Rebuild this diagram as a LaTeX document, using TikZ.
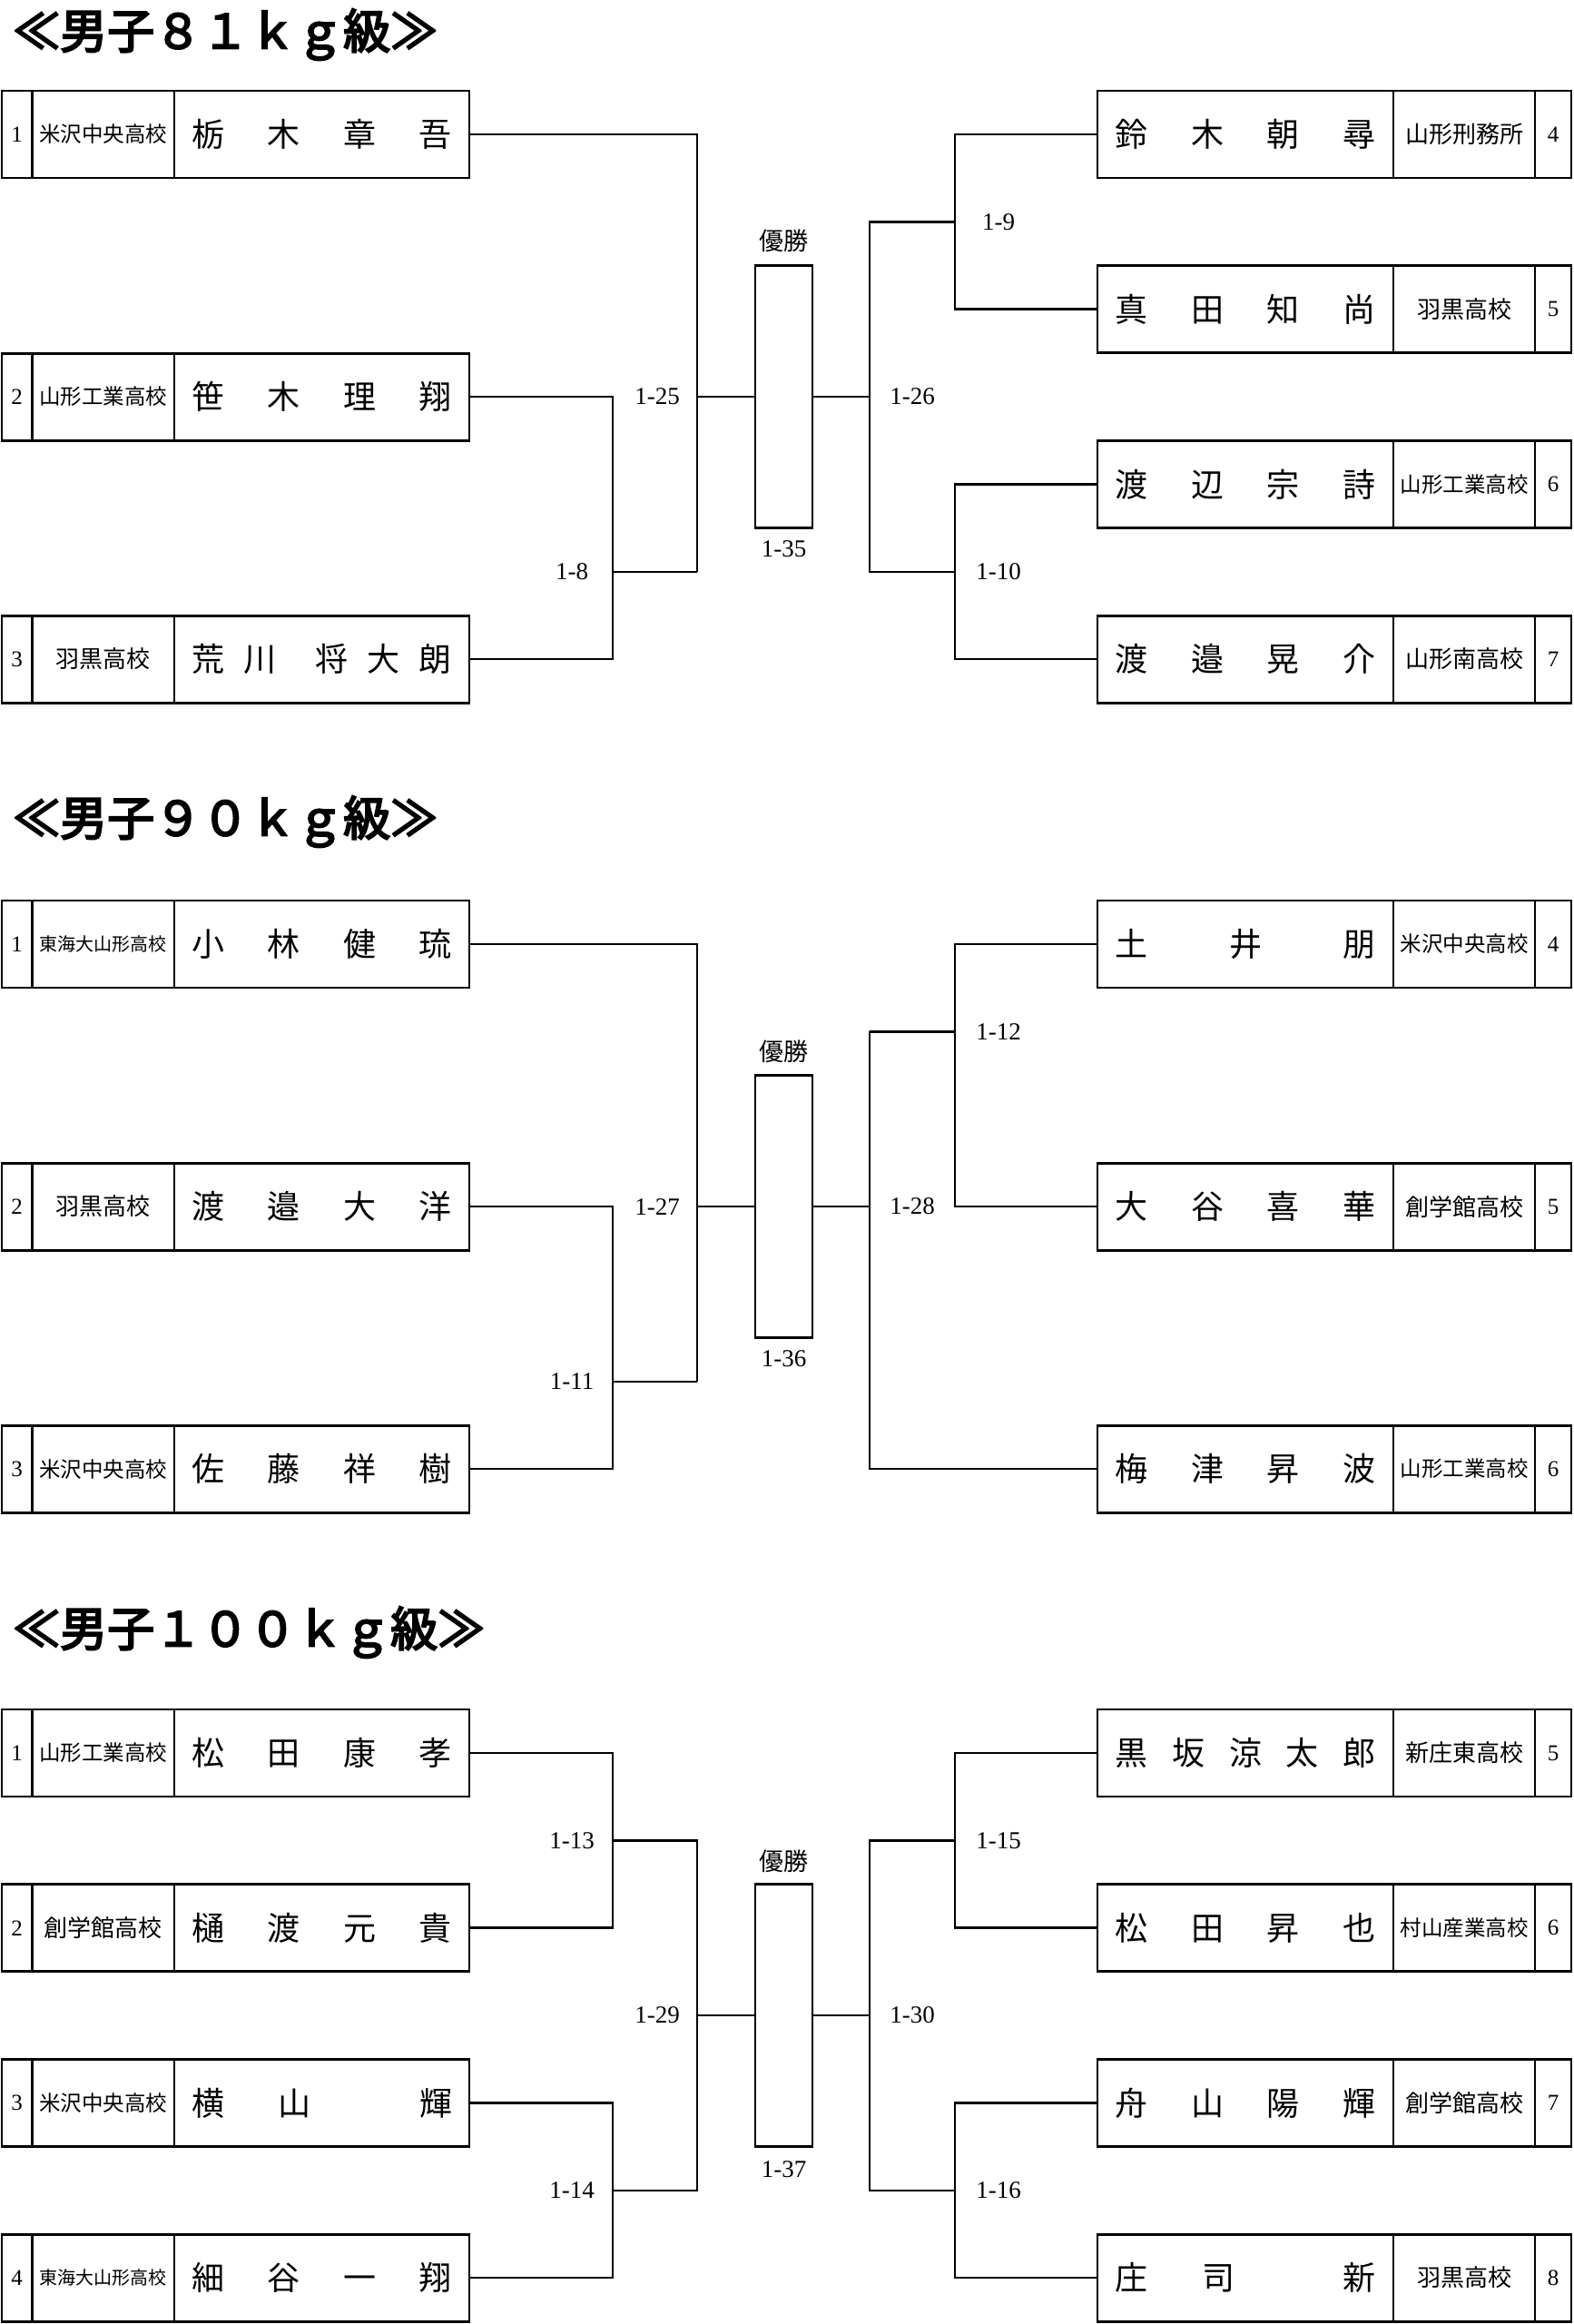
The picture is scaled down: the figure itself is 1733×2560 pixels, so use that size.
\documentclass[tikz,border=0pt]{standalone}
\usepackage{fontspec}
\setmainfont{Liberation Serif}
\newfontfamily\jp{Noto Sans CJK JP}
\newfontfamily\jptitle[FakeBold=4]{Noto Sans CJK JP}
\tikzset{
  cell/.style={draw, line width=2.8pt, minimum height=96pt, inner sep=0pt, outer sep=0pt, font=\fontsize{25}{25}\selectfont},
  wire/.style={line width=2.6pt, line join=miter},
  win/.style={draw, line width=2.8pt, minimum width=63pt, minimum height=289pt, inner sep=0pt, outer sep=0pt},
  lbl/.style={inner sep=0pt, font=\fontsize{27}{27}\selectfont},
  yus/.style={inner sep=0pt, font=\jp\fontsize{27}{27}\selectfont},
  ttl/.style={inner sep=0pt, anchor=west, font=\jptitle\fontsize{52}{52}\selectfont}
}
% id, y, number, school size, school, name
\newcommand\Lentry[6]{%
  \node[cell, minimum width=33.5pt] (#1n) at (18.75,#2) {#3};
  \node[cell, minimum width=156.5pt] (#1s) at (113.75,#2) {\jp\fontsize{#4}{#4}\selectfont #5};
  \node[cell, minimum width=325pt] (#1p) at (354.5,#2) {\jp\fontsize{36}{36}\selectfont\makebox[287pt]{#6}};
}
\newcommand\Rentry[6]{%
  \node[cell, minimum width=326pt] (#1p) at (1372,#2) {\jp\fontsize{36}{36}\selectfont\makebox[287pt]{#6}};
  \node[cell, minimum width=156pt] (#1s) at (1613,#2) {\jp\fontsize{#4}{#4}\selectfont #5};
  \node[cell, minimum width=40pt] (#1n) at (1711,#2) {#3};
}
\begin{document}
\begin{tikzpicture}[x=1pt, y=-1pt]
\fill[white] (0,0) rectangle (1733,2560);
\useasboundingbox (0,0) rectangle (1733,2560);

% ================= Section 1 : 81kg =================
\node[ttl] (t1) at (14,38) {≪男子８１ｋｇ級≫};
\Lentry{a1}{148}{1}{23.5}{米沢中央高校}{栃\hfill 木\hfill 章\hfill 吾}
\Lentry{a2}{437.1}{2}{23.5}{山形工業高校}{笹\hfill 木\hfill 理\hfill 翔}
\Lentry{a3}{726.1}{3}{26}{羽黒高校}{荒\hfill 川\hfill\hfill 将\hfill 大\hfill 朗}
\Rentry{a4}{148}{4}{26}{山形刑務所}{鈴\hfill 木\hfill 朝\hfill 尋}
\Rentry{a5}{340.7}{5}{26}{羽黒高校}{真\hfill 田\hfill 知\hfill 尚}
\Rentry{a6}{533.4}{6}{23.5}{山形工業高校}{渡\hfill 辺\hfill 宗\hfill 詩}
\Rentry{a7}{726.1}{7}{26}{山形南高校}{渡\hfill 邉\hfill 晃\hfill 介}

\node[win] (w1) at (863.5,437.1) {};
\node[yus] (y1) at (863.5,265) {優勝};
\node[lbl] (f1) at (863.5,605) {1-35};

\coordinate (a8) at (675,629.8);
\coordinate (a8o) at (768,629.8);
\coordinate (a25) at (768,437.1);
\draw[wire] (a1p.east) -| (a8o);
\draw[wire] (a2p.east) -| (a8);
\draw[wire] (a3p.east) -| (a8);
\draw[wire] (a8) -- (a8o);
\draw[wire] (a25) -- (w1.west);
\coordinate (a26) at (958,437.1);
\coordinate (a9) at (1052,244.4);
\coordinate (a9i) at (958,244.4);
\coordinate (a10) at (1052,629.8);
\coordinate (a10i) at (958,629.8);
\draw[wire] (w1.east) -- (a26);
\draw[wire] (a4p.west) -| (a9);
\draw[wire] (a5p.west) -| (a9);
\draw[wire] (a6p.west) -| (a10);
\draw[wire] (a7p.west) -| (a10);
\draw[wire] (a9) -- (a9i) -- (a10i) -- (a10);
\node[lbl] (l8) at (630,629.8) {1-8};
\node[lbl] (l25) at (724,437.1) {1-25};
\node[lbl] (l26) at (1005,437.1) {1-26};
\node[lbl] (l9) at (1100,244.4) {1-9};
\node[lbl] (l10) at (1100,629.8) {1-10};

% ================= Section 2 : 90kg =================
\node[ttl] (t2) at (14,905) {≪男子９０ｋｇ級≫};
\Lentry{b1}{1040}{1}{20}{東海大山形高校}{小\hfill 林\hfill 健\hfill 琉}
\Lentry{b2}{1329.1}{2}{26}{羽黒高校}{渡\hfill 邉\hfill 大\hfill 洋}
\Lentry{b3}{1618.1}{3}{23.5}{米沢中央高校}{佐\hfill 藤\hfill 祥\hfill 樹}
\Rentry{b4}{1040}{4}{23.5}{米沢中央高校}{土\hfill 井\hfill 朋}
\Rentry{b5}{1329.1}{5}{26}{創学館高校}{大\hfill 谷\hfill 喜\hfill 華}
\Rentry{b6}{1618.1}{6}{23.5}{山形工業高校}{梅\hfill 津\hfill 昇\hfill 波}

\node[win] (w2) at (863.5,1329.1) {};
\node[yus] (y2) at (863.5,1158) {優勝};
\node[lbl] (f2) at (863.5,1497) {1-36};

\coordinate (b11) at (675,1521.8);
\coordinate (b11o) at (768,1521.8);
\coordinate (b27) at (768,1329.1);
\draw[wire] (b1p.east) -| (b11o);
\draw[wire] (b2p.east) -| (b11);
\draw[wire] (b3p.east) -| (b11);
\draw[wire] (b11) -- (b11o);
\draw[wire] (b27) -- (w2.west);
\coordinate (b28) at (958,1329.1);
\coordinate (b12) at (1052,1136.4);
\coordinate (b12i) at (958,1136.4);
\draw[wire] (w2.east) -- (b28);
\draw[wire] (b4p.west) -| (b12);
\draw[wire] (b5p.west) -| (b12);
\draw[wire] (b12) -- (b12i);
\draw[wire] (b6p.west) -| (b12i);
\node[lbl] (l11) at (630,1521.8) {1-11};
\node[lbl] (l27) at (724,1329.1) {1-27};
\node[lbl] (l28) at (1005,1329.1) {1-28};
\node[lbl] (l12) at (1100,1136.4) {1-12};

% ================= Section 3 : 100kg =================
\node[ttl] (t3) at (14,1798) {≪男子１００ｋｇ級≫};
\Lentry{c1}{1931}{1}{23.5}{山形工業高校}{松\hfill 田\hfill 康\hfill 孝}
\Lentry{c2}{2123.7}{2}{26}{創学館高校}{樋\hfill 渡\hfill 元\hfill 貴}
\Lentry{c3}{2316.4}{3}{23.5}{米沢中央高校}{横\hfill 山\hfill\hfill 輝}
\Lentry{c4}{2509.1}{4}{20}{東海大山形高校}{細\hfill 谷\hfill 一\hfill 翔}
\Rentry{c5}{1931}{5}{26}{新庄東高校}{黒\hfill 坂\hfill 涼\hfill 太\hfill 郎}
\Rentry{c6}{2123.7}{6}{23.5}{村山産業高校}{松\hfill 田\hfill 昇\hfill 也}
\Rentry{c7}{2316.4}{7}{26}{創学館高校}{舟\hfill 山\hfill 陽\hfill 輝}
\Rentry{c8}{2509.1}{8}{26}{羽黒高校}{庄\hfill 司\hfill\hfill 新}

\node[win] (w3) at (863.5,2220.1) {};
\node[yus] (y3) at (863.5,2050) {優勝};
\node[lbl] (f3) at (863.5,2390) {1-37};

\coordinate (c13) at (675,2027.4);
\coordinate (c13o) at (768,2027.4);
\coordinate (c14) at (675,2412.8);
\coordinate (c14o) at (768,2412.8);
\coordinate (c29) at (768,2220.1);
\draw[wire] (c1p.east) -| (c13);
\draw[wire] (c2p.east) -| (c13);
\draw[wire] (c3p.east) -| (c14);
\draw[wire] (c4p.east) -| (c14);
\draw[wire] (c13) -- (c13o) -- (c14o) -- (c14);
\draw[wire] (c29) -- (w3.west);
\coordinate (c30) at (958,2220.1);
\coordinate (c15) at (1052,2027.4);
\coordinate (c15i) at (958,2027.4);
\coordinate (c16) at (1052,2412.8);
\coordinate (c16i) at (958,2412.8);
\draw[wire] (w3.east) -- (c30);
\draw[wire] (c5p.west) -| (c15);
\draw[wire] (c6p.west) -| (c15);
\draw[wire] (c7p.west) -| (c16);
\draw[wire] (c8p.west) -| (c16);
\draw[wire] (c15) -- (c15i) -- (c16i) -- (c16);
\node[lbl] (l13) at (630,2027.4) {1-13};
\node[lbl] (l14) at (630,2412.8) {1-14};
\node[lbl] (l29) at (724,2220.1) {1-29};
\node[lbl] (l30) at (1005,2220.1) {1-30};
\node[lbl] (l15) at (1100,2027.4) {1-15};
\node[lbl] (l16) at (1100,2412.8) {1-16};
\end{tikzpicture}
\end{document}
